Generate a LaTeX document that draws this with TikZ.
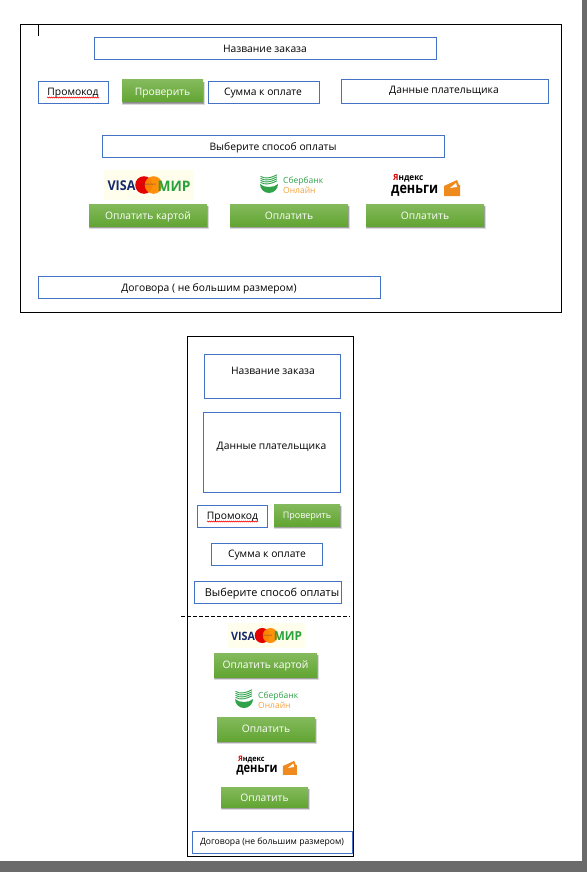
\documentclass[tikz,border=0pt]{standalone}
\usepackage{fontspec}
\setmainfont{Open Sans}
\usetikzlibrary{decorations.pathmorphing}
\definecolor{bluebd}{HTML}{4472C4}
\definecolor{btop}{HTML}{84BA5C}
\definecolor{bbot}{HTML}{62A533}
\definecolor{chrome}{HTML}{6B6B6B}
\definecolor{visanavy}{HTML}{14286E}
\definecolor{mirgreen}{HTML}{2AA13A}
\definecolor{sbgreen}{HTML}{2FA24A}
\definecolor{sborange}{HTML}{F5A13C}
\definecolor{walletor}{HTML}{EE8A1E}
\tikzset{
 blueframe/.style={draw=bluebd,line width=.9pt,fill=white,inner sep=0pt,rectangle},
 blackframe/.style={draw=black,line width=1pt,fill=white,inner sep=0pt,rectangle},
 lab/.style={font=\fontsize{10.3}{12}\selectfont,inner sep=0pt,text=black},
 greenbtn/.style={rectangle,inner sep=0pt,top color=btop,bottom color=bbot},
 btntext/.style={inner sep=0pt,anchor=base,text=white,font=\fontsize{10.3}{12}\selectfont},
 btnshade/.style={fill=black,opacity=.14},
 logotxt/.style={inner sep=0pt,anchor=west},
}
\newcommand{\rectnode}[6]{% style name x1 y1 x2 y2
 \pgfmathsetmacro{\mw}{#5-#3}\pgfmathsetmacro{\mh}{#6-#4}%
 \pgfmathsetmacro{\mx}{(#3+#5)/2}\pgfmathsetmacro{\my}{(#4+#6)/2}%
 \node[#1,minimum width=\mw pt,minimum height=\mh pt] (#2) at (\mx,\my) {};}
\newcommand{\bbox}[8]{\rectnode{blueframe}{#1}{#2}{#3}{#4}{#5}\node[lab] (#1t) at (#6,#7) {#8};}
\newcommand{\btnbase}{4.7}
\newcommand{\gbtn}[6]{%
 \fill[btnshade] (#2-.5,#3+2) rectangle (#4+1.5,#5+3);
 \fill[btnshade] (#2,#3+2) rectangle (#4+1.2,#5+2.4);
 \fill[btnshade] (#2+.5,#3+2) rectangle (#4+.8,#5+1.8);
 \fill[btnshade] (#2+.5,#3+2) rectangle (#4+.4,#5+1.2);
 \pgfmathsetmacro{\mw}{#4-#2}\pgfmathsetmacro{\mh}{#5-#3}%
 \pgfmathsetmacro{\mx}{(#2+#4)/2}\pgfmathsetmacro{\my}{(#3+#5)/2}%
 \pgfmathsetmacro{\mb}{\my+\btnbase}%
 \node[greenbtn,minimum width=\mw pt,minimum height=\mh pt] (#1) at (\mx,\my) {};
 \node[btntext] (#1t) at (\mx,\mb) {#6};}
\newcommand{\squiggle}[2]{\draw[red,line width=.5pt,decorate,decoration={zigzag,amplitude=.6pt,segment length=2pt}] (#1) -- (#2);}
\newcommand{\visalogo}[3]{%
 \begin{scope}[shift={(#1,#2)},scale=#3,transform shape]
 \fill[yellow!7!white] (-45,-15) rectangle (45,15);
 \node[inner sep=0pt,text=visanavy,font=\fontsize{13.5}{14}\selectfont\bfseries,xscale=.93] at (-27.5,1) {VISA};
 \fill[red!90!black] (-5,0) circle (8.8);
 \fill[orange!90!yellow,opacity=.95] (4.5,0) circle (8.8);
 \node[inner sep=0pt,text=black!70,font=\fontsize{2.5}{3}\selectfont] at (0,0) {mastercard};
 \node[inner sep=0pt,text=mirgreen,font=\fontsize{14.5}{15}\selectfont\bfseries,xscale=.95] at (25,1) {МИР};
 \end{scope}}
\newcommand{\sberlogo}[2]{%
 \begin{scope}[shift={(#1,#2)}]
 \fill[sbgreen] (-9,-1) arc[start angle=180,end angle=0,radius=9] .. controls (5,3) and (-5,3) .. cycle;
 \foreach \k in {0,1,2,3}{\draw[sbgreen,line width=.9pt] (-8.5,-2.6-2*\k) .. controls (-4,.2-2*\k) and (2,-1-2*\k) .. (8,-4.2-2*\k);}
 \node[logotxt,text=sbgreen,font=\fontsize{8.5}{9}\selectfont] at (14,-4) {Сбербанк};
 \node[logotxt,text=sborange,font=\fontsize{8.5}{9}\selectfont] at (14,5) {Онлайн};
 \end{scope}}
\newcommand{\yalogo}[3]{%
 \begin{scope}[shift={(#1,#2)},scale=#3,transform shape]
 \node[logotxt,font=\fontsize{8.6}{9}\selectfont\bfseries,xscale=.95] at (1,-9) {\textcolor{red!85!black}{Я}ндекс};
 \node[logotxt,font=\fontsize{15}{16}\selectfont\bfseries,xscale=.84] at (-1,3.5) {деньги};
 \fill[walletor] (52,-1) -- (65,-7) -- (67,-2) -- (68,-2) -- (68,9) -- (52,9) -- cycle;
 \fill[white] (58,1) -- (64,-4) -- (65,0) -- cycle;
 \end{scope}}
\begin{document}
\begin{tikzpicture}[x=1pt,y=-1pt]
\useasboundingbox (0,0) rectangle (587,872);
\fill[white] (0,0) rectangle (587,872);
\fill[chrome] (582,0) rectangle (587,872);
\fill[chrome] (0,861) rectangle (587,872);
% desktop
\rectnode{blackframe}{deskframe}{20.5}{24.5}{561.5}{312.5}
\coordinate (caretA) at (38.5,24.5); \coordinate (caretB) at (38.5,36.5);
\draw[black,line width=.8pt] (caretA) -- (caretB);
\bbox{dname}{94.5}{37.5}{436.5}{59.5}{265}{49}{Название заказа}
\bbox{dpromo}{38.5}{81.5}{108.5}{103.5}{73}{92.7}{Промокод}
\coordinate (dsqA) at (47,97.5); \coordinate (dsqB) at (99,97.5);
\squiggle{dsqA}{dsqB}
\gbtn{dcheck}{122}{80}{203}{102}{Проверить}
\bbox{dsum}{208.5}{81.5}{319.5}{103.5}{263}{93}{Сумма к оплате}
\bbox{dpayer}{341.5}{79.5}{548.5}{103.5}{444}{91}{Данные плательщика}
\bbox{dchoose}{102.5}{135.5}{444.5}{157.5}{273}{148}{Выберите способ оплаты}
\visalogo{149}{185}{1}
\sberlogo{269}{185}
\yalogo{392}{187}{1}
\gbtn{dcard}{89}{204}{207}{226}{Оплатить картой}
\gbtn{dsber}{230}{204}{348}{226}{Оплатить}
\gbtn{dya}{366}{204}{484}{226}{Оплатить}
\bbox{dcontract}{38.5}{276.5}{380.5}{298.5}{209}{289}{Договора ( не большим размером)}
% phone
\rectnode{blackframe}{mobframe}{187.5}{336.5}{353.5}{856.5}
\bbox{mname}{204.5}{354.5}{340.5}{398}{273}{371}{Название заказа}
\bbox{mpayer}{203.5}{412.5}{340.5}{492.5}{271.5}{447}{Данные плательщика}
\bbox{mpromo}{197.5}{505.5}{267.5}{527.5}{232.5}{517}{Промокод}
\coordinate (msqA) at (207,521.5); \coordinate (msqB) at (258,521.5);
\squiggle{msqA}{msqB}
\renewcommand{\btnbase}{3.2}
\gbtn{mcheck}{274}{504}{340}{526}{\fontsize{9}{11}\selectfont Проверить}
\bbox{msum}{211.5}{543.5}{322.5}{565.5}{267}{555}{Сумма к оплате}
\rectnode{blueframe}{mchoose}{194.5}{581.5}{341.5}{603.5}
\node[lab,font=\fontsize{10.9}{12}\selectfont] (mchooset) at (272,594) {Выберите способ оплаты};
\coordinate (cutA) at (181,616.7); \coordinate (cutB) at (350,616.7);
\draw[black,line width=.9pt,dash pattern=on 4pt off 2pt] (cutA) -- (cutB);
\visalogo{266.5}{635.5}{.855}
\gbtn{mcard}{214}{653}{317}{677}{Оплатить картой}
\sberlogo{244}{700}
\gbtn{msber}{217}{717}{315}{741}{Оплатить}
\yalogo{237}{767}{.88}
\renewcommand{\btnbase}{4.7}
\gbtn{mya}{221}{787}{308}{807}{Оплатить}
\rectnode{blueframe}{mcontract}{192.5}{831.5}{352.5}{853.5}
\node[lab,font=\fontsize{8.6}{10}\selectfont] (mcontractt) at (272,842) {Договора (не большим размером)};
\end{tikzpicture}
\end{document}
